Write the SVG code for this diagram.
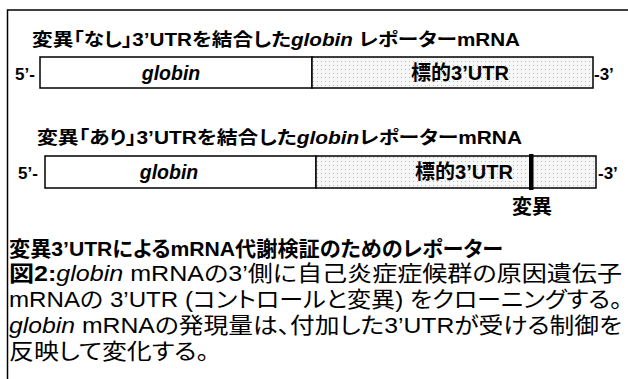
<svg xmlns="http://www.w3.org/2000/svg" width="628" height="379" viewBox="0 0 628 379">
<defs>
<pattern id="dots" width="4" height="4" patternUnits="userSpaceOnUse">
<rect width="4" height="4" fill="#f7f7f7"/>
<rect x="1" y="1" width="1" height="1" fill="#b8b8b8"/>
</pattern>
<style>
.b{font-family:"Liberation Sans","Noto Sans CJK JP",sans-serif;font-weight:bold;fill:#000;font-feature-settings:"palt"}
.r{font-family:"Liberation Sans","Noto Sans CJK JP",sans-serif;fill:#000;font-feature-settings:"palt"}
.i{font-style:italic}
.box{fill:#fff;stroke:#000;stroke-width:1.5}
.utr{fill:url(#dots);stroke:#000;stroke-width:1.5}
</style>
</defs>
<rect width="628" height="379" fill="#fff"/>
<path d="M7.5,379 V10 H628" fill="none" stroke="#000" stroke-width="1.5"/>

<g id="reporter1">
<text class="b" x="32" y="46" font-size="18" textLength="488" lengthAdjust="spacingAndGlyphs">変異「なし」3’UTRを結合した<tspan class="i">globin</tspan> レポーターmRNA</text>
<text class="b" x="15" y="80" font-size="17">5’-</text>
<rect class="box" x="40" y="57" width="272" height="31"/>
<rect class="utr" x="312" y="57" width="281" height="31"/>
<text class="b i" x="171" y="80" font-size="19.5" text-anchor="middle">globin</text>
<text class="b" x="460" y="80" font-size="20" text-anchor="middle">標的3’UTR</text>
<text class="b" x="594" y="80" font-size="17">-3’</text>
</g>

<g id="reporter2">
<text class="b" x="37" y="144" font-size="18" textLength="485" lengthAdjust="spacingAndGlyphs">変異「あり」3’UTRを結合した<tspan class="i">globin</tspan>レポーターmRNA</text>
<text class="b" x="18" y="179" font-size="17">5’-</text>
<rect class="box" x="45" y="156" width="271" height="32"/>
<rect class="utr" x="316" y="156" width="280" height="32"/>
<text class="b i" x="169" y="179" font-size="19.5" text-anchor="middle">globin</text>
<text class="b" x="464" y="179" font-size="20" text-anchor="middle">標的3’UTR</text>
<text class="b" x="598" y="179" font-size="17">-3’</text>
<rect x="529" y="154" width="4.5" height="36" fill="#000"/>
<text class="b" x="532" y="214" font-size="20" text-anchor="middle">変異</text>
</g>

<g id="caption">
<text class="b" x="9" y="256" font-size="21" textLength="494" lengthAdjust="spacingAndGlyphs">変異3’UTRによるmRNA代謝検証のためのレポーター</text>
<text class="r" x="9" y="281" font-size="22" textLength="613" lengthAdjust="spacingAndGlyphs"><tspan font-weight="bold">図2:</tspan><tspan class="i">globin</tspan>  mRNAの3’側に自己炎症症候群の原因遺伝子</text>
<text class="r" x="9" y="307" font-size="22" textLength="613" lengthAdjust="spacingAndGlyphs">mRNAの 3’UTR (コントロールと変異) をクローニングする。</text>
<text class="r" x="9" y="333" font-size="22" textLength="613" lengthAdjust="spacingAndGlyphs"><tspan class="i">globin</tspan>  mRNAの発現量は、付加した3’UTRが受ける制御を</text>
<text class="r" x="9" y="359" font-size="22" textLength="200" lengthAdjust="spacingAndGlyphs">反映して変化する。</text>
</g>
</svg>
